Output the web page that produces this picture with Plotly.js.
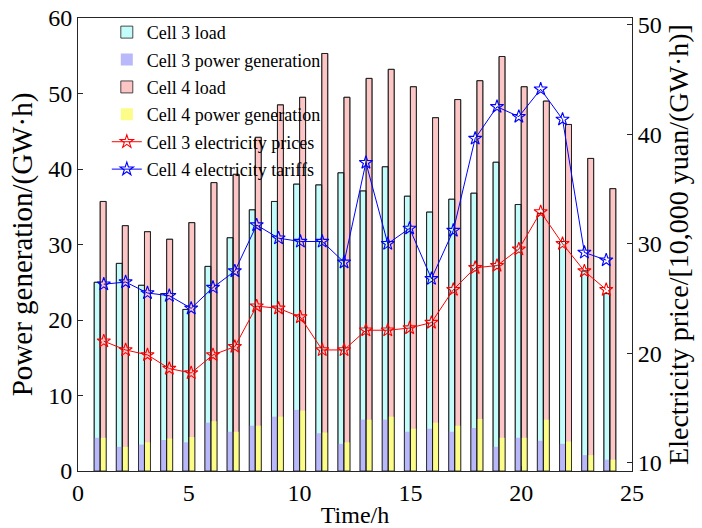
<!DOCTYPE html>
<html>
<head>
<meta charset="utf-8">
<script src="https://cdn.plot.ly/plotly-3.0.1.min.js"></script>
<style>html,body{margin:0;padding:0;background:#fff;}#chart{width:702px;height:528px;}</style>
</head>
<body>
<div id="chart"></div>
<script>
const hours = [1,2,3,4,5,6,7,8,9,10,11,12,13,14,15,16,17,18,19,20,21,22,23,24];
const cell3Load = [25.0,27.5,24.6,23.5,21.4,27.1,30.9,34.6,35.7,38.0,37.9,39.5,37.1,40.3,36.4,34.3,36.0,36.8,40.9,35.3,34.1,30.4,26.5,23.5];
const cell3Gen = [4.4,3.2,3.5,4.1,3.8,6.4,5.2,6.0,7.2,8.1,5.0,3.6,6.8,6.8,5.2,5.6,5.2,5.7,3.2,4.4,4.0,3.6,2.1,1.5];
const cell4Load = [35.7,32.5,31.7,30.7,32.9,38.2,39.3,44.2,48.5,49.5,55.3,49.5,52.0,53.2,50.9,46.8,49.2,51.7,54.9,50.9,49.0,45.9,41.4,37.4];
const cell4Gen = [4.4,3.2,3.8,4.3,4.5,6.6,5.2,6.0,7.2,8.0,5.1,3.8,6.8,7.2,5.6,6.4,6.0,6.9,4.4,4.4,6.8,3.9,2.1,1.5];
const cell3Price = [21.1,20.3,19.85,18.6,18.2,19.85,20.6,24.3,24.1,23.3,20.3,20.3,22.1,22.1,22.3,22.8,25.8,27.8,28.0,29.5,32.9,30.0,27.5,25.8];
const cell4Price = [26.3,26.5,25.5,25.25,24.1,26.0,27.5,31.7,30.5,30.2,30.2,28.3,37.4,30.0,31.4,26.8,31.2,39.6,42.5,41.6,44.1,41.35,29.2,28.5];
const seriesNames = ['Cell 3 load','Cell 3 power generation','Cell 4 load','Cell 4 power generation','Cell 3 electricity prices','Cell 4 electricity tariffs'];

const FONT = 'Liberation Serif, Times New Roman, serif';
const BW = 0.27;
const edge = 'rgba(20,20,20,0.75)';

function bar(y, name, color, off, showEdge, group, legend) {
  return {type:'bar', x:hours, y:y, name:name, width:BW, offset:off,
    marker:{color:color, line:{color: showEdge ? edge : 'rgba(90,90,90,0.8)', width: showEdge ? 1 : 0}},
    legendgroup:group, showlegend:legend, xaxis:'x', yaxis:'y', hoverinfo:'skip'};
}

const traces = [
  bar(cell3Load, seriesNames[0], '#c4fcfc', -BW, true, 'g1', true),
  bar(cell3Gen, seriesNames[1], '#b8b8fa', -BW, false, 'g2', true),
  bar(cell4Load, seriesNames[2], '#fcc6c6', 0, true, 'g3', true),
  bar(cell4Gen, seriesNames[3], '#fcfc88', 0, false, 'g4', true),
  bar(cell3Load, seriesNames[0], 'rgba(0,0,0,0)', -BW, true, 'g1', false),
  bar(cell4Load, seriesNames[2], 'rgba(0,0,0,0)', 0, true, 'g3', false),
  {type:'scatter', mode:'lines+markers', x:hours, y:cell3Price, name:seriesNames[4],
    line:{color:'#ff0000', width:1}, marker:{symbol:'star-open', size:10, color:'#ff0000', line:{width:1.1, color:'#ff0000'}},
    xaxis:'x2', yaxis:'y2', legendgroup:'g5'},
  {type:'scatter', mode:'lines+markers', x:hours, y:cell4Price, name:seriesNames[5],
    line:{color:'#0000ff', width:1}, marker:{symbol:'star-open', size:10, color:'#0000ff', line:{width:1.1, color:'#0000ff'}},
    xaxis:'x2', yaxis:'y2', legendgroup:'g6'}
];

const layout = {
  width:702, height:528,
  margin:{l:78, r:70, t:18, b:57, pad:0},
  paper_bgcolor:'#fff', plot_bgcolor:'#fff',
  font:{family:FONT, color:'#000', size:22},
  barmode:'overlay',
  showlegend:true,
  legend:{x:0.052, y:1.009, xanchor:'left', yanchor:'top', bgcolor:'rgba(0,0,0,0)', borderwidth:0,
    font:{family:FONT, size:18, color:'#000'}, tracegroupgap:1, traceorder:'grouped', itemwidth:30},
  xaxis:{range:[0,25], tickvals:[0,5,10,15,20,25], ticks:'inside', ticklen:5, tickcolor:'#262626',
    showline:true, linecolor:'#262626', linewidth:1, mirror:true, showgrid:false, zeroline:false,
    tickfont:{family:FONT, size:24}, title:{text:'Time/h', font:{family:FONT, size:24}, standoff:2}},
  xaxis2:{range:[-0.18,25.18], overlaying:'x', visible:false, showgrid:false, zeroline:false},
  yaxis:{range:[0,60], tickvals:[0,10,20,30,40,50,60], ticks:'inside', ticklen:5, tickcolor:'#262626',
    showline:true, linecolor:'#262626', linewidth:1, showgrid:false, zeroline:false,
    tickfont:{family:FONT, size:24}, title:{text:'Power generation/(GW·h)', font:{family:FONT, size:29}, standoff:7}},
  yaxis2:{range:[9.25,50.6], tickvals:[10,20,30,40,50], overlaying:'y', side:'right', anchor:'x',
    ticks:'inside', ticklen:5, tickcolor:'#262626', showline:true, linecolor:'#262626', linewidth:1,
    showgrid:false, zeroline:false, tickfont:{family:FONT, size:24},
    title:{text:'Electricity price/[10,000 yuan/(GW·h)]', font:{family:FONT, size:28}, standoff:7}}
};

Plotly.newPlot('chart', traces, layout, {staticPlot:true, displayModeBar:false});
</script>
</body>
</html>
